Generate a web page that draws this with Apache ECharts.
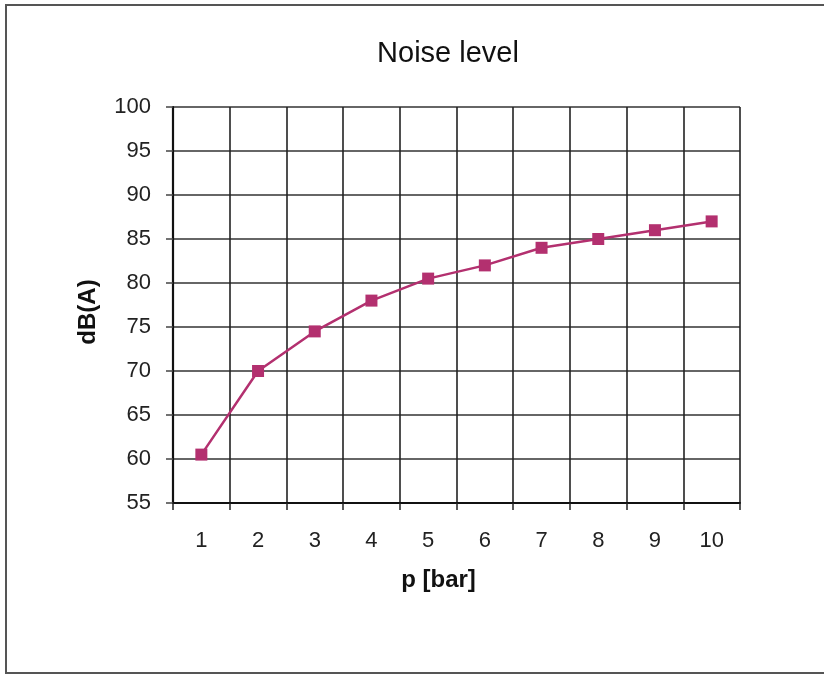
<!DOCTYPE html>
<html><head><meta charset="utf-8">
<script src="https://cdn.jsdelivr.net/npm/echarts@6/dist/echarts.min.js"></script>
<style>html,body{margin:0;padding:0;background:#fff}#c{width:824px;height:677px}</style>
</head><body><div id="c"></div>
<script>
const categories = ['1','2','3','4','5','6','7','8','9','10'];
const noise = [60.5, 70, 74.5, 78, 80.5, 82, 84, 85, 86, 87];
const yMin = 55, yMax = 100, yStep = 5;

const chart = echarts.init(document.getElementById('c'));
chart.setOption({
  animation: false,
  backgroundColor: '#fff',
  graphic: [{
    type: 'rect', shape: {x: 6, y: 5, width: 830, height: 668},
    style: {fill: 'none', stroke: '#555', lineWidth: 2}
  }],
  title: {
    text: 'Noise level', left: 443, top: 34, textAlign: 'center',
    textStyle: {fontFamily: 'Liberation Sans', fontSize: 29, fontWeight: 'normal', color: '#111'}
  },
  grid: {left: 173, right: 84, top: 107, bottom: 174},
  xAxis: {
    type: 'category', data: categories, boundaryGap: true,
    name: 'p [bar]', nameLocation: 'middle', nameGap: 65,
    nameTextStyle: {fontFamily: 'Liberation Sans', fontSize: 24, fontWeight: 'bold', color: '#111', padding: [0, 36, 0, 0]},
    axisLine: {lineStyle: {color: '#111', width: 2}},
    axisTick: {show: true, length: 7, alignWithLabel: false, lineStyle: {color: '#222', width: 1.5}},
    axisLabel: {fontFamily: 'Liberation Sans', fontSize: 22, color: '#222', margin: 27},
    splitLine: {show: true, lineStyle: {color: '#222', width: 1.6}}
  },
  yAxis: {
    type: 'value', min: yMin, max: yMax, interval: yStep,
    name: 'dB(A)', nameLocation: 'middle', nameGap: 73,
    nameTextStyle: {fontFamily: 'Liberation Sans', fontSize: 24, fontWeight: 'bold', color: '#111', padding: [0, 14, 0, 0]},
    axisLine: {show: true, lineStyle: {color: '#111', width: 2.2}},
    axisTick: {show: true, length: 7, lineStyle: {color: '#444', width: 1.5}},
    axisLabel: {fontFamily: 'Liberation Sans', fontSize: 22, color: '#222', margin: 22},
    splitLine: {show: true, lineStyle: {color: '#333', width: 1.6}}
  },
  series: [{
    type: 'line', data: noise, smooth: false,
    symbol: 'rect', symbolSize: 12,
    lineStyle: {color: '#b3306f', width: 2.5},
    itemStyle: {color: '#b3306f'}
  }]
});
</script></body></html>
